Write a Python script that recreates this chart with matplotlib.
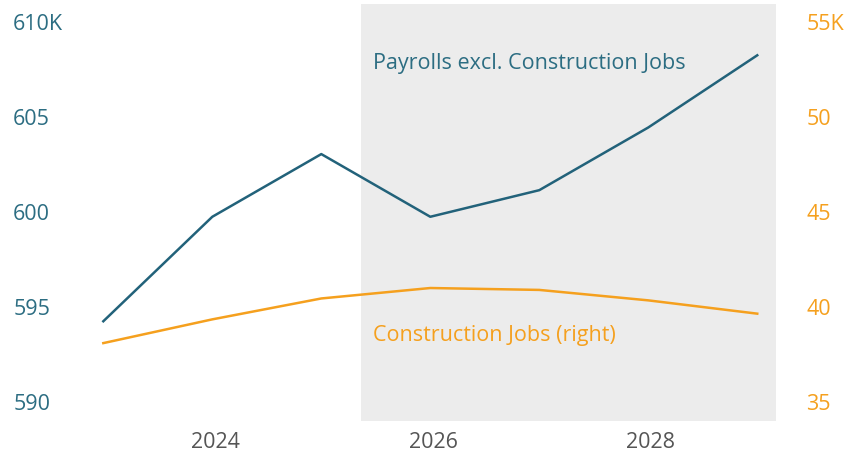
import matplotlib.pyplot as plt

years = [2023, 2024, 2025, 2026, 2027, 2028, 2029]
payrolls_ex_construction = [594.2, 599.7, 603.0, 599.7, 601.1, 604.4, 608.2]
construction_jobs = [38.05, 39.3, 40.4, 40.95, 40.85, 40.3, 39.6]

left_ticks = [590, 595, 600, 605, 610]
left_labels = ["590", "595", "600", "605", "610K"]
right_ticks = [35, 40, 45, 50, 55]
right_labels = ["35", "40", "45", "50", "55K"]
x_ticks = [2024, 2026, 2028]
x_labels = ["2024", "2026", "2028"]
forecast_start = 2025.364

TEAL = "#22627a"
TEAL_TEXT = "#2c6d82"
ORANGE = "#f5a01e"

plt.rcParams["font.family"] = ["Open Sans", "DejaVu Sans"]

fig = plt.figure(figsize=(8.59, 4.56), dpi=100)
ax = fig.add_axes([91 / 859, 34 / 456, 685 / 859, 417 / 456])
ax2 = ax.twinx()

xmin, xmax = 2022.887, 2029.172
ax.set_xlim(xmin, xmax)
ax.set_ylim(588.95, 610.9)
ax2.set_ylim(33.95, 55.9)

# forecast period shading
ax.axvspan(forecast_start, xmax, color="#ececec", zorder=0, lw=0)

ax.plot(years, payrolls_ex_construction, color=TEAL, lw=1.8, zorder=3)
ax2.plot(years, construction_jobs, color=ORANGE, lw=1.8, zorder=3)

for a in (ax, ax2):
    for s in a.spines.values():
        s.set_visible(False)

# labels sit a touch right of the data points in the original
ax.set_xticks([x + 0.025 for x in x_ticks])
ax.set_xticklabels(x_labels)
ax.tick_params(axis="x", length=0, pad=7, labelsize=15.5, labelcolor="#555555")

ax.set_yticks(left_ticks)
ax.set_yticklabels(left_labels)
ax.tick_params(axis="y", length=0, pad=56, labelsize=15.5, labelcolor=TEAL_TEXT)
for lbl in ax.get_yticklabels():
    lbl.set_horizontalalignment("left")

ax2.set_yticks(right_ticks)
ax2.set_yticklabels(right_labels)
ax2.tick_params(axis="y", length=0, pad=22, labelsize=15.5, labelcolor=ORANGE)

ax.text(2025.47, 607.8, "Payrolls excl. Construction Jobs", color=TEAL_TEXT,
        fontsize=15.5, va="center", ha="left", zorder=4)
ax2.text(2025.47, 38.5, "Construction Jobs (right)", color=ORANGE,
         fontsize=15.5, va="center", ha="left", zorder=4)

fig.savefig("out.png", dpi=100)
